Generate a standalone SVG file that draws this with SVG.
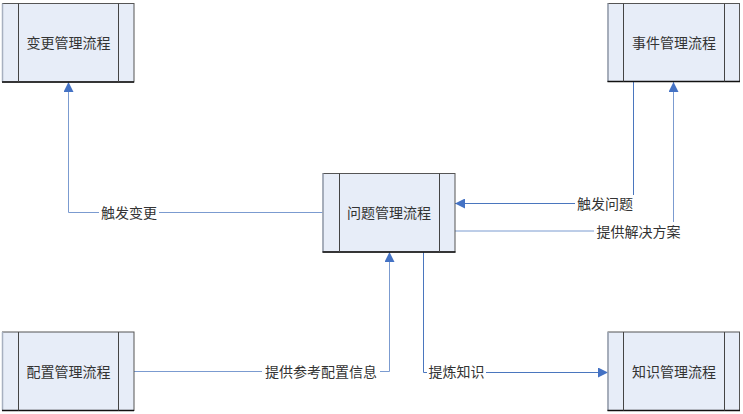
<svg xmlns="http://www.w3.org/2000/svg" width="743" height="414" viewBox="0 0 743 414">
<style>
.box{fill:#e7edf8;stroke:#555;stroke-width:1}
.bl{stroke:#a7b0c0;stroke-width:1.5}
.bb{stroke:#111;stroke-width:1.5}
.in{stroke:#444;stroke-width:1}
.t{font-family:"Noto Sans CJK SC","Noto Sans",sans-serif;font-size:14px;fill:#333;text-anchor:middle;dominant-baseline:central}
.c{fill:none;stroke:#7b9bd0;stroke-width:1}
.cd{fill:none;stroke:#4a76be;stroke-width:1}
.lb{fill:#fff}
</style>
<defs>
<marker id="ah" viewBox="0 0 10 10" refX="10" refY="5" markerWidth="10" markerHeight="10" markerUnits="userSpaceOnUse" orient="auto">
<path d="M0,0 L10,5 L0,10 Z" fill="#4472c4"/>
</marker>
</defs>
<g id="connectors">
<polyline class="c" points="323,212.5 68.5,212.5 68.5,82" marker-end="url(#ah)"/>
<polyline class="cd" points="633.5,82 633.5,203.5 455,203.5" marker-end="url(#ah)"/>
<polyline class="c" points="455,231 673.5,231 673.5,82" marker-end="url(#ah)"/>
<polyline class="c" points="134,371.5 389.5,371.5 389.5,252" marker-end="url(#ah)"/>
<polyline class="cd" points="423.5,252 423.5,372.5 608,372.5" marker-end="url(#ah)"/>
<rect class="lb" x="99" y="204" width="60" height="17"/>
<text class="t" x="129" y="212">触发变更</text>
<rect class="lb" x="575" y="195" width="60" height="17"/>
<text class="t" x="605" y="203">触发问题</text>
<rect class="lb" x="594" y="222" width="89" height="17"/>
<text class="t" x="638.5" y="230.5">提供解决方案</text>
<rect class="lb" x="262" y="363" width="118" height="17"/>
<text class="t" x="321" y="371">提供参考配置信息</text>
<rect class="lb" x="427" y="363" width="59" height="17"/>
<text class="t" x="456.5" y="371">提炼知识</text>
</g>
<g id="change">
<rect class="box" x="2.5" y="3.5" width="131.5" height="78.5"/>
<line class="bl" x1="2.5" y1="3.5" x2="2.5" y2="82"/>
<line class="bb" x1="2" y1="82" x2="134" y2="82"/>
<line class="in" x1="18.5" y1="3.5" x2="18.5" y2="82"/>
<line class="in" x1="118.5" y1="3.5" x2="118.5" y2="82"/>
<text class="t" x="68.5" y="42">变更管理流程</text>
</g>
<g id="event">
<rect class="box" x="608" y="3.5" width="131.5" height="78"/>
<line class="bl" x1="608" y1="3.5" x2="608" y2="81.5"/>
<line class="bb" x1="607.5" y1="81.5" x2="740" y2="81.5"/>
<line class="in" x1="623.5" y1="3.5" x2="623.5" y2="81.5"/>
<line class="in" x1="724.5" y1="3.5" x2="724.5" y2="81.5"/>
<text class="t" x="674" y="42">事件管理流程</text>
</g>
<g id="problem">
<rect class="box" x="323" y="173.5" width="132" height="78.5"/>
<line class="bl" x1="323" y1="173.5" x2="323" y2="252"/>
<line class="bb" x1="322.5" y1="252" x2="455.5" y2="252"/>
<line class="in" x1="339.5" y1="173.5" x2="339.5" y2="252"/>
<line class="in" x1="439.5" y1="173.5" x2="439.5" y2="252"/>
<text class="t" x="389" y="212">问题管理流程</text>
</g>
<g id="config">
<rect class="box" x="2.5" y="332" width="131.5" height="78.5"/>
<line class="bl" x1="2.5" y1="332" x2="2.5" y2="410.5"/>
<line class="bb" x1="2" y1="410.5" x2="134" y2="410.5"/>
<line class="in" x1="18.5" y1="332" x2="18.5" y2="410.5"/>
<line class="in" x1="118.5" y1="332" x2="118.5" y2="410.5"/>
<text class="t" x="68.5" y="371">配置管理流程</text>
</g>
<g id="knowledge">
<rect class="box" x="608" y="332" width="131.5" height="78.5"/>
<line class="bl" x1="608" y1="332" x2="608" y2="410.5"/>
<line class="bb" x1="607.5" y1="410.5" x2="740" y2="410.5"/>
<line class="in" x1="623.5" y1="332" x2="623.5" y2="410.5"/>
<line class="in" x1="724.5" y1="332" x2="724.5" y2="410.5"/>
<text class="t" x="674" y="371">知识管理流程</text>
</g>
</svg>
